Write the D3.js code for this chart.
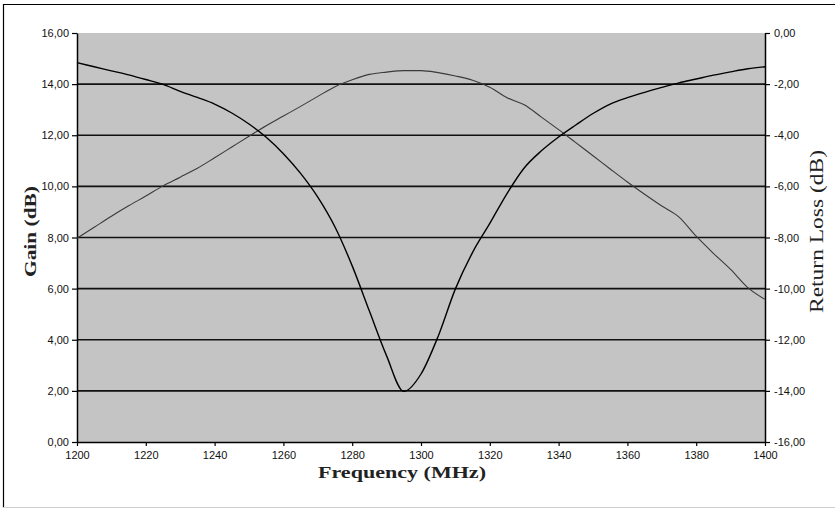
<!DOCTYPE html>
<html>
<head>
<meta charset="utf-8">
<script src="https://cdn.jsdelivr.net/npm/d3@7/dist/d3.min.js"></script>
<style>
  body { margin: 0; background: #ffffff; }
  svg { display: block; }
</style>
</head>
<body>
<svg id="chart" width="835" height="509"></svg>
<script>
// Measured antenna response, 1200–1400 MHz in 5 MHz steps
const frequency = [1200, 1205, 1210, 1215, 1220, 1225, 1230, 1235, 1240, 1245,
                   1250, 1255, 1260, 1265, 1270, 1275, 1280, 1285, 1290, 1295,
                   1300, 1305, 1310, 1315, 1320, 1325, 1330, 1335, 1340, 1345,
                   1350, 1355, 1360, 1365, 1370, 1375, 1380, 1385, 1390, 1395, 1400];

// Gain (dB), left axis
const gain = [7.97, 8.40, 8.83, 9.24, 9.62, 10.02, 10.36, 10.71, 11.12, 11.54,
              11.96, 12.37, 12.75, 13.13, 13.52, 13.90, 14.17, 14.38, 14.47, 14.53,
              14.53, 14.45, 14.32, 14.15, 13.88, 13.47, 13.19, 12.71, 12.22, 11.71,
              11.20, 10.68, 10.17, 9.69, 9.23, 8.80, 8.05, 7.38, 6.75, 6.04, 5.58];

// Return loss (dB), right axis
const returnLoss = [-1.16, -1.32, -1.48, -1.64, -1.82, -2.01, -2.28, -2.52, -2.78, -3.13,
                    -3.56, -4.08, -4.72, -5.49, -6.42, -7.59, -9.11, -10.88, -12.63, -14.02,
                    -13.34, -11.86, -10.01, -8.58, -7.45, -6.28, -5.28, -4.61, -4.07, -3.60,
                    -3.15, -2.78, -2.53, -2.32, -2.13, -1.95, -1.80, -1.65, -1.52, -1.40, -1.32];

const freqTicks = [1200, 1220, 1240, 1260, 1280, 1300, 1320, 1340, 1360, 1380, 1400];
const gainTicks = [0, 2, 4, 6, 8, 10, 12, 14, 16];
const lossTicks = [-16, -14, -12, -10, -8, -6, -4, -2, 0];

const svg = d3.select('#chart');
const plot = { left: 77, right: 765, top: 33, bottom: 442 };

const x = d3.scaleLinear().domain([1200, 1400]).range([plot.left, plot.right]);
const yGain = d3.scaleLinear().domain([0, 16]).range([plot.bottom, plot.top]);
const yLoss = d3.scaleLinear().domain([-16, 0]).range([plot.bottom, plot.top]);
const fmt = d => d.toFixed(2).replace('.', ',');

// Outer chart frame
svg.append('line').attr('x1', 3.5).attr('x2', 3.5).attr('y1', 4).attr('y2', 508)
  .attr('stroke', '#000').attr('stroke-width', 1.2);
svg.append('line').attr('x1', 3).attr('x2', 835).attr('y1', 4.5).attr('y2', 4.5)
  .attr('stroke', '#000').attr('stroke-width', 1.2);
svg.append('line').attr('x1', 3).attr('x2', 835).attr('y1', 507.5).attr('y2', 507.5)
  .attr('stroke', '#cfcfcf').attr('stroke-width', 1);

// Plot background
svg.append('rect')
  .attr('x', plot.left).attr('y', plot.top)
  .attr('width', plot.right - plot.left).attr('height', plot.bottom - plot.top)
  .attr('fill', '#c4c4c4');

// Horizontal gridlines
svg.append('g').selectAll('line')
  .data(gainTicks.filter(d => d > 0 && d < 16))
  .join('line')
  .attr('x1', plot.left).attr('x2', plot.right)
  .attr('y1', d => yGain(d)).attr('y2', d => yGain(d))
  .attr('stroke', '#111').attr('stroke-width', 1.6);

function styleAxis(g) {
  g.select('.domain').attr('stroke', '#000').attr('stroke-width', 1.5);
  g.selectAll('.tick line').attr('stroke', '#000').attr('stroke-width', 1.2);
  g.selectAll('.tick text')
    .attr('fill', '#111')
    .style('font-family', '"Liberation Sans", Arial, sans-serif')
    .style('font-size', '11px');
}

svg.append('g')
  .attr('transform', `translate(${plot.left},0)`)
  .call(d3.axisLeft(yGain).tickValues(gainTicks).tickFormat(fmt).tickSize(5).tickSizeOuter(0).tickPadding(3))
  .call(styleAxis);

svg.append('g')
  .attr('transform', `translate(${plot.right},0)`)
  .call(d3.axisRight(yLoss).tickValues(lossTicks).tickFormat(fmt).tickSize(5).tickSizeOuter(0).tickPadding(4))
  .call(styleAxis);

svg.append('g')
  .attr('transform', `translate(0,${plot.bottom})`)
  .call(d3.axisBottom(x).tickValues(freqTicks).tickFormat(d3.format('d')).tickSize(4).tickSizeOuter(0).tickPadding(5))
  .call(styleAxis);

// Curves
const gainLine = d3.line().curve(d3.curveMonotoneX)
  .x((d, i) => x(frequency[i])).y(d => yGain(d));
const lossLine = d3.line().curve(d3.curveMonotoneX)
  .x((d, i) => x(frequency[i])).y(d => yLoss(d));

svg.append('path').datum(gain)
  .attr('d', gainLine)
  .attr('fill', 'none').attr('stroke', '#3a3a3a').attr('stroke-width', 1.1);

svg.append('path').datum(returnLoss)
  .attr('d', lossLine)
  .attr('fill', 'none').attr('stroke', '#000').attr('stroke-width', 1.4);

// Axis titles
const titleFont = '"Liberation Serif", "Times New Roman", serif';
svg.append('text')
  .attr('transform', 'translate(36,231.5) rotate(-90)')
  .attr('text-anchor', 'middle')
  .attr('textLength', 91).attr('lengthAdjust', 'spacingAndGlyphs')
  .style('font-family', titleFont).style('font-weight', 'bold').style('font-size', '17px')
  .attr('fill', '#222')
  .text('Gain (dB)');

svg.append('text')
  .attr('transform', 'translate(823,231.5) rotate(-90)')
  .attr('text-anchor', 'middle')
  .attr('textLength', 163).attr('lengthAdjust', 'spacingAndGlyphs')
  .style('font-family', titleFont).style('font-size', '19px')
  .attr('fill', '#222')
  .text('Return Loss (dB)');

svg.append('text')
  .attr('x', 402).attr('y', 478)
  .attr('text-anchor', 'middle')
  .attr('textLength', 168).attr('lengthAdjust', 'spacingAndGlyphs')
  .style('font-family', titleFont).style('font-weight', 'bold').style('font-size', '17px')
  .attr('fill', '#222')
  .text('Frequency (MHz)');
</script>
</body>
</html>
